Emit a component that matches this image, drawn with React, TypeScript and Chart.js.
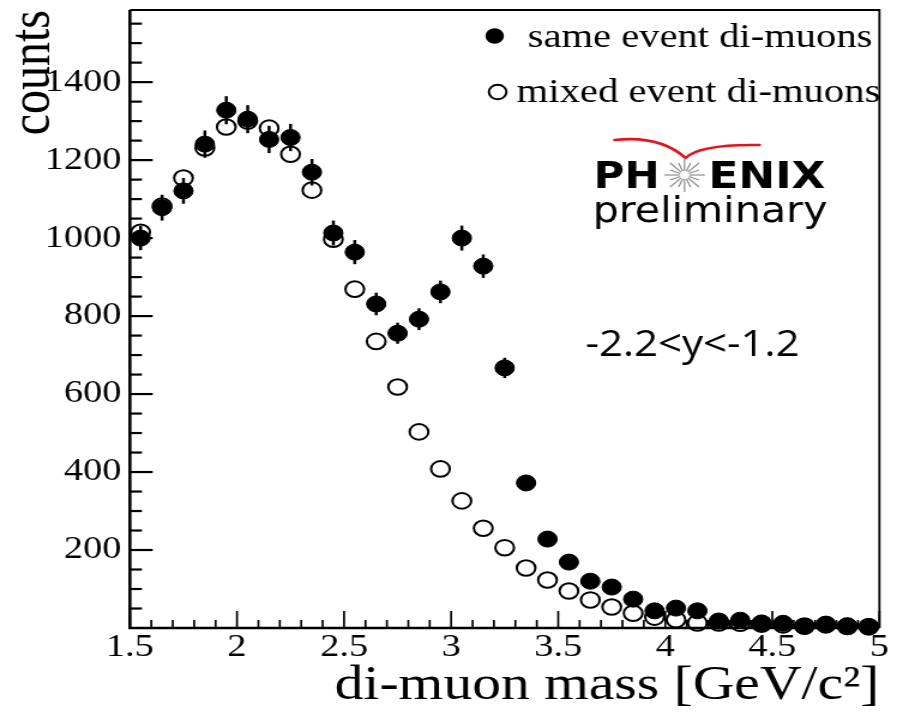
import React, { useEffect, useRef } from 'react';
import { Chart, registerables } from 'chart.js';

Chart.register(...registerables);

// ---------------- data ----------------
const massBins = [
  1.55, 1.65, 1.75, 1.85, 1.95, 2.05, 2.15, 2.25, 2.35, 2.45,
  2.55, 2.65, 2.75, 2.85, 2.95, 3.05, 3.15, 3.25, 3.35, 3.45,
  3.55, 3.65, 3.75, 3.85, 3.95, 4.05, 4.15, 4.25, 4.35, 4.45,
  4.55, 4.65, 4.75, 4.85, 4.95,
];

const sameEventCounts = [
  1000, 1078, 1121, 1241, 1328, 1305, 1253, 1258, 1169, 1013,
  964, 831, 756, 792, 862, 1000, 928, 667, 372, 228,
  169, 120, 105, 74, 44, 51, 44, 18, 20, 13,
  12, 4, 10, 6, 4,
];

const sameEventErrors = [
  31, 33, 33, 35, 36, 36, 35, 35, 34, 32,
  31, 29, 27, 28, 29, 32, 30, 26, 19, 15,
  13, 11, 10, 9, 7, 7, 7, 4, 4, 4,
  3, 2, 3, 2, 2,
];

const mixedEventCounts = [
  1015, 1082, 1154, 1231, 1285, 1300, 1282, 1215, 1123, 997,
  869, 735, 618, 503, 408, 326, 256, 206, 154, 123,
  95, 72, 54, 38, 28, 21, 13, 13, 12, 10,
  8, 5, 8, 4, 3,
];

const xTickValues = [1.5, 2, 2.5, 3, 3.5, 4, 4.5, 5];
const yTickValues = [200, 400, 600, 800, 1000, 1200, 1400];
const legendLabels = ['same event di-muons', 'mixed event di-muons'];
const xAxisTitle = 'di-muon mass [GeV/c\u00B2]';
const yAxisTitle = 'counts';
const rapidityLabel = '-2.2<y<-1.2';
const logoLeft = 'PH';
const logoRight = 'ENIX';
const logoSub = 'preliminary';

// ---------------- styling / geometry ----------------
const SERIF = "'Liberation Serif', 'Times New Roman', serif";
const SANS = "'DejaVu Sans', Verdana, sans-serif";
const SANS2 = "'Open Sans', 'Noto Sans', sans-serif";

const STRETCH = 1.2; // the reference image is horizontally stretched
const PAGE_W = 897;
const PAGE_H = 715;
const CANVAS_W = Math.round(PAGE_W / STRETCH);
const ix = (pageX: number) => pageX / STRETCH;

const AREA_LEFT = ix(130);
const AREA_RIGHT = ix(880);
const AREA_TOP = 10;
const AREA_BOTTOM = 628;

function fitText(
  ctx: CanvasRenderingContext2D,
  text: string,
  x: number,
  baseline: number,
  width: number,
  font: string,
  color = '#000'
) {
  ctx.save();
  ctx.font = font;
  ctx.fillStyle = color;
  ctx.textAlign = 'left';
  ctx.textBaseline = 'alphabetic';
  const w = ctx.measureText(text).width || 1;
  ctx.translate(x, baseline);
  ctx.scale(width / w, 1);
  ctx.fillText(text, 0, 0);
  ctx.restore();
}

const frameTicksPlugin = {
  id: 'frameTicks',
  beforeDatasetsDraw(chart: any) {
    const { ctx, chartArea: a, scales } = chart;
    const xs = scales.x;
    const ys = scales.y;
    ctx.save();
    ctx.strokeStyle = '#000';
    ctx.lineCap = 'butt';
    // x ticks (inward), minor every 0.1, major every 0.5
    ctx.lineWidth = 1.7;
    for (let k = 15; k <= 50; k++) {
      const v = k / 10;
      const px = xs.getPixelForValue(v);
      const len = k % 5 === 0 ? 17 : 8;
      ctx.beginPath();
      ctx.moveTo(px, a.bottom);
      ctx.lineTo(px, a.bottom - len);
      ctx.stroke();
    }
    // y ticks (inward), minor every 50, major every 200
    ctx.lineWidth = 2.2;
    for (let k = 1; k * 50 <= ys.max; k++) {
      const v = k * 50;
      const py = ys.getPixelForValue(v);
      const len = k % 4 === 0 ? 19 : 10;
      ctx.beginPath();
      ctx.moveTo(a.left, py);
      ctx.lineTo(a.left + len, py);
      ctx.stroke();
    }
    // frame
    ctx.lineWidth = 1.8;
    ctx.beginPath();
    ctx.moveTo(a.left, a.top);
    ctx.lineTo(a.right, a.top);
    ctx.lineTo(a.right, a.bottom);
    ctx.stroke();
    ctx.lineWidth = 2.6;
    ctx.beginPath();
    ctx.moveTo(a.left, a.top);
    ctx.lineTo(a.left, a.bottom);
    ctx.lineTo(a.right, a.bottom);
    ctx.stroke();
    ctx.restore();
  },
};

const errorBarsPlugin = {
  id: 'errorBars',
  afterDatasetsDraw(chart: any) {
    const { ctx, scales } = chart;
    const xs = scales.x;
    const ys = scales.y;
    ctx.save();
    ctx.strokeStyle = '#000';
    ctx.lineWidth = 2.5;
    massBins.forEach((m, i) => {
      const px = xs.getPixelForValue(m);
      const y1 = ys.getPixelForValue(sameEventCounts[i] + sameEventErrors[i]);
      const y2 = ys.getPixelForValue(Math.max(0, sameEventCounts[i] - sameEventErrors[i]));
      ctx.beginPath();
      ctx.moveTo(px, y1);
      ctx.lineTo(px, y2);
      ctx.stroke();
    });
    ctx.restore();
  },
};

const annotationsPlugin = {
  id: 'annotations',
  afterDraw(chart: any) {
    const { ctx } = chart;
    ctx.save();
    // legend
    ctx.fillStyle = '#000';
    ctx.beginPath();
    ctx.arc(ix(495), 36, 7.7, 0, Math.PI * 2);
    ctx.fill();
    ctx.strokeStyle = '#000';
    ctx.lineWidth = 2;
    ctx.beginPath();
    ctx.arc(ix(498), 92, 7.3, 0, Math.PI * 2);
    ctx.stroke();
    fitText(ctx, legendLabels[0], ix(528), 47, ix(873) - ix(528), `34px ${SERIF}`);
    fitText(ctx, legendLabels[1], ix(517), 102, ix(881) - ix(517), `34px ${SERIF}`);

    // PHENIX logo: red swoosh
    ctx.strokeStyle = '#e3141b';
    ctx.lineWidth = 2.6;
    ctx.lineCap = 'round';
    ctx.lineJoin = 'round';
    ctx.beginPath();
    ctx.moveTo(ix(615), 140);
    ctx.quadraticCurveTo(ix(660), 135, ix(686), 158);
    ctx.quadraticCurveTo(ix(700), 144, ix(760), 145);
    ctx.stroke();

    fitText(ctx, logoLeft, ix(594), 188, ix(660) - ix(594), `bold 37px ${SANS}`);
    fitText(ctx, logoRight, ix(709), 188, ix(826) - ix(709), `bold 37px ${SANS}`);

    // starburst
    const cx = ix(685);
    const cy = 175;
    ctx.strokeStyle = '#8c8c8c';
    ctx.lineWidth = 1.2;
    ctx.lineCap = 'butt';
    for (let k = 0; k < 16; k++) {
      const ang = (k / 16) * Math.PI * 2;
      const r2 = k % 2 === 0 ? 17 : 13;
      ctx.beginPath();
      ctx.moveTo(cx + Math.cos(ang) * 4, cy + Math.sin(ang) * 4);
      ctx.lineTo(cx + Math.cos(ang) * r2, cy + Math.sin(ang) * r2);
      ctx.stroke();
    }

    fitText(ctx, logoSub, ix(593), 222, ix(828) - ix(593), `36px ${SANS}`);

    // rapidity range
    fitText(ctx, rapidityLabel, ix(586), 356, ix(800) - ix(586), `36px ${SANS2}`);
    ctx.restore();
  },
};

export default function App() {
  const ref = useRef<HTMLCanvasElement | null>(null);

  useEffect(() => {
    const canvas = ref.current;
    if (!canvas) return;
    const chart = new Chart(canvas, {
      type: 'scatter',
      data: {
        datasets: [
          {
            label: legendLabels[0],
            data: massBins.map((m, i) => ({ x: m, y: sameEventCounts[i] })),
            pointRadius: 8,
            pointHoverRadius: 8,
            pointBackgroundColor: '#000',
            pointBorderColor: '#000',
            pointBorderWidth: 1,
            showLine: false,
            clip: false,
          },
          {
            label: legendLabels[1],
            data: massBins.map((m, i) => ({ x: m, y: mixedEventCounts[i] })),
            pointRadius: 7.8,
            pointHoverRadius: 7.8,
            pointBackgroundColor: 'rgba(0,0,0,0)',
            pointBorderColor: '#000',
            pointBorderWidth: 2,
            showLine: false,
            clip: false,
          },
        ],
      },
      options: {
        responsive: false,
        maintainAspectRatio: false,
        devicePixelRatio: 1,
        animation: false,
        events: [],
        layout: {
          padding: { left: 0, right: CANVAS_W - AREA_RIGHT, top: AREA_TOP, bottom: 0 },
        },
        plugins: {
          legend: { display: false },
          tooltip: { enabled: false },
        },
        scales: {
          x: {
            type: 'linear',
            min: 1.5,
            max: 5,
            grid: { display: false, drawTicks: false },
            border: { display: false },
            afterBuildTicks: (s: any) => {
              s.ticks = xTickValues.map((v) => ({ value: v }));
            },
            afterFit: (s: any) => {
              s.height = PAGE_H - AREA_BOTTOM;
              s.paddingLeft = 0;
              s.paddingRight = 0;
              s.paddingTop = 0;
              s.paddingBottom = 0;
            },
            ticks: {
              autoSkip: false,
              maxRotation: 0,
              minRotation: 0,
              padding: 0,
              color: '#000',
              font: { family: SERIF, size: 32 },
              callback: (v: any) => String(v),
            },
            title: {
              display: true,
              text: xAxisTitle,
              align: 'end',
              color: '#000',
              font: { family: SERIF, size: 48 },
              padding: { top: 0, bottom: 0 },
            },
          },
          y: {
            type: 'linear',
            min: 0,
            max: 1585,
            grid: { display: false, drawTicks: false },
            border: { display: false },
            afterBuildTicks: (s: any) => {
              s.ticks = yTickValues.map((v) => ({ value: v }));
            },
            afterFit: (s: any) => {
              s.width = AREA_LEFT;
              s.paddingLeft = 0;
              s.paddingRight = 0;
              s.paddingTop = 0;
              s.paddingBottom = 0;
            },
            ticks: {
              autoSkip: false,
              padding: 7,
              color: '#000',
              font: { family: SERIF, size: 32 },
              callback: (v: any) => String(v),
            },
            title: {
              display: true,
              text: yAxisTitle,
              align: 'end',
              color: '#000',
              font: { family: SERIF, size: 48 },
              padding: { top: 0, bottom: 0 },
            },
          },
        },
      } as any,
      plugins: [frameTicksPlugin, errorBarsPlugin, annotationsPlugin],
    });
    return () => chart.destroy();
  }, []);

  return (
    <div
      style={{
        position: 'fixed',
        left: 0,
        top: 0,
        width: PAGE_W,
        height: PAGE_H,
        background: '#fff',
      }}
    >
      <canvas
        ref={ref}
        width={CANVAS_W}
        height={PAGE_H}
        style={{ display: 'block', width: `${PAGE_W}px`, height: `${PAGE_H}px` }}
      />
    </div>
  );
}
